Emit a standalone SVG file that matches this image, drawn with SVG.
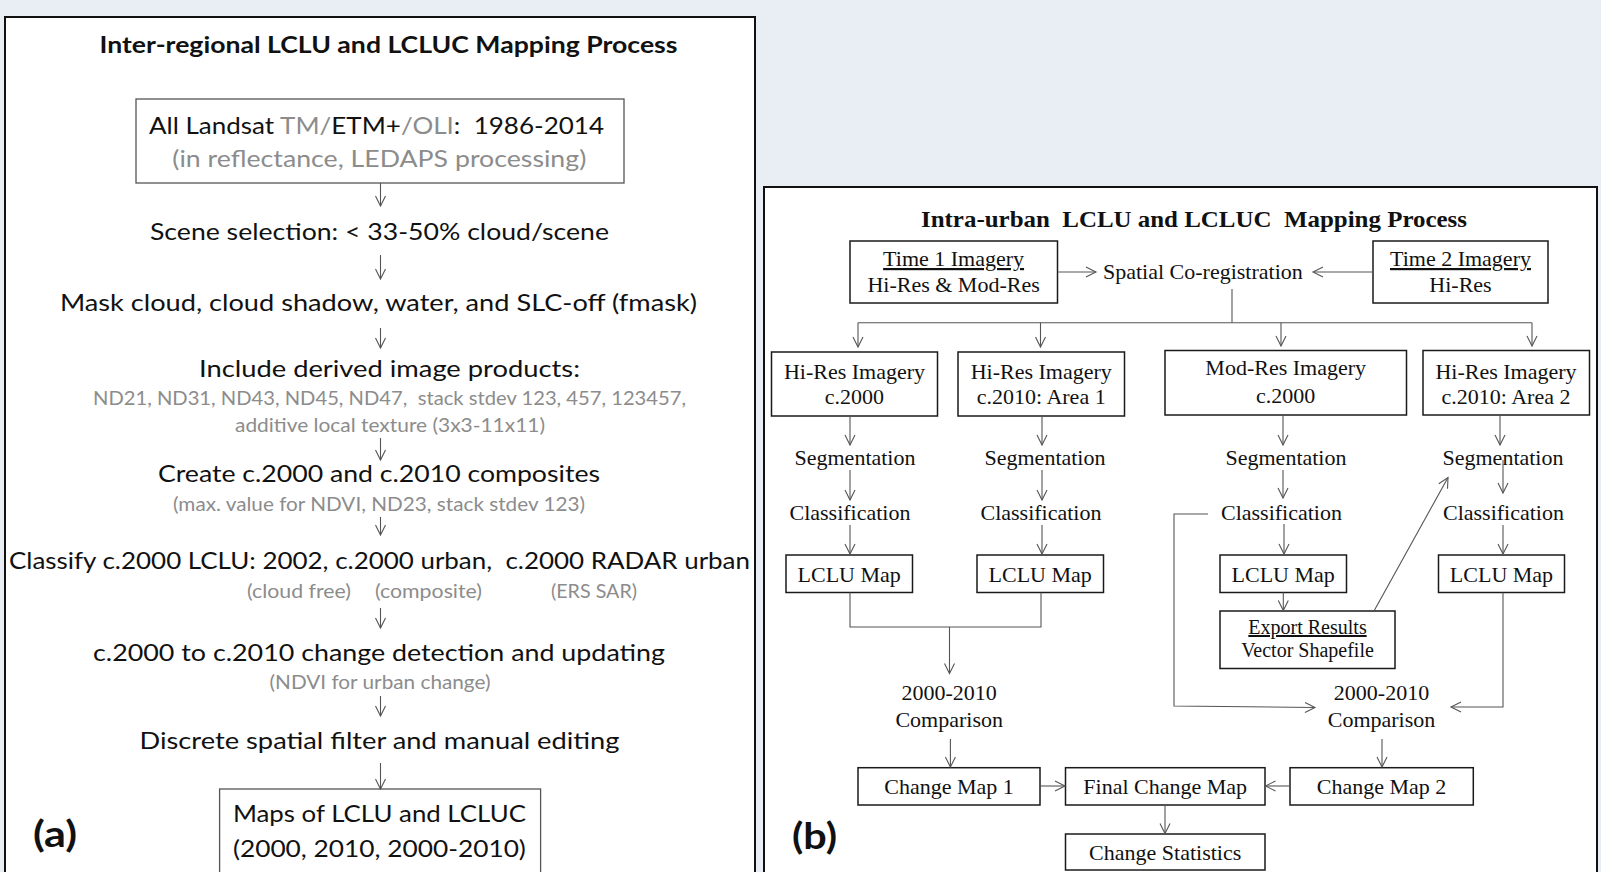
<svg xmlns="http://www.w3.org/2000/svg" width="1601" height="872" viewBox="0 0 1601 872">
  <style>
    .panel { fill: #ffffff; stroke: #111111; stroke-width: 2; }
    .boxa { fill: #ffffff; stroke: #555555; stroke-width: 1.3; }
    .boxb { fill: #ffffff; stroke: #1a1a1a; stroke-width: 1.5; }
    .conn { fill: none; stroke: #555555; stroke-width: 1.1; }
    .sa { font-family: Lato, "Open Sans", sans-serif; fill: #111111; }
    .sa-main { font-size: 24px; }
    .sa-sub { font-size: 19px; fill: #8c8c8c; }
    .grey { fill: #8c8c8c; }
    .sa-title { font-size: 22px; font-weight: bold; }
    .tag { font-family: Lato, "Open Sans", sans-serif; font-size: 36px; font-weight: bold; fill: #111111; }
    .tr { font-family: "Liberation Serif", "Times New Roman", serif; font-size: 22px; fill: #111111; }
    .tr-title { font-weight: bold; font-size: 23px; }
    .mid { text-anchor: middle; }
    .ul { text-decoration: underline; }
  </style>
  <defs>
    <marker id="vhead" viewBox="-12 -7 14 14" refX="0" refY="0" markerWidth="14" markerHeight="14" markerUnits="userSpaceOnUse" orient="auto">
      <path d="M-10,-5 L0,0 L-10,5" fill="none" stroke="#555555" stroke-width="1.1"/>
    </marker>
  </defs>

  <!-- page background -->
  <rect x="0" y="0" width="1601" height="872" fill="#e9edf4"/>

  <!-- ===== Panel (a): inter-regional process ===== -->
  <g id="panel-a">
    <rect class="panel" x="5" y="17" width="750" height="880"/>
    <text class="sa sa-title mid" x="388.5" y="53" textLength="578" lengthAdjust="spacingAndGlyphs">Inter-regional LCLU and LCLUC Mapping Process</text>
  </g>

  <g id="a-landsat">
    <rect class="boxa" x="136" y="99" width="488" height="84"/>
    <text class="sa sa-main" x="149" y="134" textLength="455" lengthAdjust="spacingAndGlyphs" xml:space="preserve">All Landsat <tspan class="grey">TM/</tspan>ETM+<tspan class="grey">/OLI</tspan>:  1986-2014</text>
    <text class="sa sa-main grey mid" x="379.3" y="167" textLength="414" lengthAdjust="spacingAndGlyphs">(in reflectance, LEDAPS processing)</text>
  </g>

  <g id="a-scene">
    <text class="sa sa-main mid" x="379.5" y="240" textLength="459" lengthAdjust="spacingAndGlyphs">Scene selection: &lt; 33-50% cloud/scene</text>
  </g>

  <g id="a-mask">
    <text class="sa sa-main mid" x="378.5" y="311" textLength="637" lengthAdjust="spacingAndGlyphs">Mask cloud, cloud shadow, water, and SLC-off (fmask)</text>
  </g>

  <g id="a-derived">
    <text class="sa sa-main mid" x="389.5" y="377" textLength="381" lengthAdjust="spacingAndGlyphs">Include derived image products:</text>
    <text class="sa sa-sub mid" x="389.5" y="405" textLength="593" lengthAdjust="spacingAndGlyphs" xml:space="preserve">ND21, ND31, ND43, ND45, ND47,  stack stdev 123, 457, 123457,</text>
    <text class="sa sa-sub mid" x="390" y="431.5" textLength="310" lengthAdjust="spacingAndGlyphs">additive local texture (3x3-11x11)</text>
  </g>

  <g id="a-composites">
    <text class="sa sa-main mid" x="379" y="481.5" textLength="442" lengthAdjust="spacingAndGlyphs">Create c.2000 and c.2010 composites</text>
    <text class="sa sa-sub mid" x="379" y="510.5" textLength="412" lengthAdjust="spacingAndGlyphs">(max. value for NDVI, ND23, stack stdev 123)</text>
  </g>

  <g id="a-classify">
    <text class="sa sa-main mid" x="379.5" y="569" textLength="741" lengthAdjust="spacingAndGlyphs" xml:space="preserve">Classify c.2000 LCLU: 2002, c.2000 urban,  c.2000 RADAR urban</text>
    <text class="sa sa-sub mid" x="299" y="597.5" textLength="104" lengthAdjust="spacingAndGlyphs">(cloud free)</text>
    <text class="sa sa-sub mid" x="428.5" y="597.5" textLength="107" lengthAdjust="spacingAndGlyphs">(composite)</text>
    <text class="sa sa-sub mid" x="594" y="597.5" textLength="86" lengthAdjust="spacingAndGlyphs">(ERS SAR)</text>
  </g>

  <g id="a-change">
    <text class="sa sa-main mid" x="379" y="661" textLength="572" lengthAdjust="spacingAndGlyphs">c.2000 to c.2010 change detection and updating</text>
    <text class="sa sa-sub mid" x="380" y="689" textLength="221" lengthAdjust="spacingAndGlyphs">(NDVI for urban change)</text>
  </g>

  <g id="a-filter">
    <text class="sa sa-main mid" x="379.5" y="749" textLength="480" lengthAdjust="spacingAndGlyphs">Discrete spatial filter and manual editing</text>
  </g>

  <g id="a-maps">
    <rect class="boxa" x="219.6" y="789" width="321" height="100"/>
    <text class="sa sa-main mid" x="379.4" y="821.5" textLength="293" lengthAdjust="spacingAndGlyphs">Maps of LCLU and LCLUC</text>
    <text class="sa sa-main mid" x="379.4" y="857" textLength="293" lengthAdjust="spacingAndGlyphs">(2000, 2010, 2000-2010)</text>
  </g>

  <g id="a-label">
    <text class="tag" x="33" y="847" textLength="44" lengthAdjust="spacingAndGlyphs">(a)</text>
  </g>

  <g id="a-connectors">
    <line class="conn" x1="380.5" y1="183" x2="380.5" y2="206" marker-end="url(#vhead)"/>
    <line class="conn" x1="380.5" y1="255" x2="380.5" y2="279" marker-end="url(#vhead)"/>
    <line class="conn" x1="380.5" y1="328" x2="380.5" y2="348" marker-end="url(#vhead)"/>
    <line class="conn" x1="380.5" y1="438" x2="380.5" y2="460" marker-end="url(#vhead)"/>
    <line class="conn" x1="380.5" y1="517" x2="380.5" y2="535" marker-end="url(#vhead)"/>
    <line class="conn" x1="380.5" y1="608" x2="380.5" y2="628" marker-end="url(#vhead)"/>
    <line class="conn" x1="380.5" y1="696" x2="380.5" y2="716" marker-end="url(#vhead)"/>
    <line class="conn" x1="380.5" y1="763" x2="380.5" y2="789" marker-end="url(#vhead)"/>
  </g>

  <!-- ===== Panel (b): intra-urban process ===== -->
  <g id="panel-b">
    <rect class="panel" x="764" y="187" width="833" height="710"/>
    <text class="tr tr-title mid" x="1194" y="226.7" textLength="546" lengthAdjust="spacingAndGlyphs" xml:space="preserve">Intra-urban  LCLU and LCLUC  Mapping Process</text>
  </g>

  <g id="b-time1">
    <rect class="boxb" x="850" y="241" width="207.5" height="62"/>
    <text class="tr mid ul" x="953.6" y="266">Time 1 Imagery</text>
    <text class="tr mid" x="953.6" y="292">Hi-Res &amp; Mod-Res</text>
  </g>

  <g id="b-coreg">
    <text class="tr" x="1103" y="279">Spatial Co-registration</text>
  </g>

  <g id="b-time2">
    <rect class="boxb" x="1373" y="241" width="175" height="62"/>
    <text class="tr mid ul" x="1460.5" y="266">Time 2 Imagery</text>
    <text class="tr mid" x="1460.5" y="292">Hi-Res</text>
  </g>

  <g id="b-hires2000">
    <rect class="boxb" x="771.5" y="352" width="166" height="64"/>
    <text class="tr mid" x="854.5" y="378.5">Hi-Res Imagery</text>
    <text class="tr mid" x="854.5" y="403.5">c.2000</text>
  </g>

  <g id="b-hires2010a1">
    <rect class="boxb" x="958" y="352" width="166.5" height="64"/>
    <text class="tr mid" x="1041.2" y="378.5">Hi-Res Imagery</text>
    <text class="tr mid" x="1041.2" y="403.5">c.2010: Area 1</text>
  </g>

  <g id="b-modres2000">
    <rect class="boxb" x="1165" y="350.5" width="241.5" height="64.5"/>
    <text class="tr mid" x="1285.7" y="375">Mod-Res Imagery</text>
    <text class="tr mid" x="1285.7" y="403">c.2000</text>
  </g>

  <g id="b-hires2010a2">
    <rect class="boxb" x="1423" y="350.5" width="166.5" height="64.5"/>
    <text class="tr mid" x="1506" y="378.5">Hi-Res Imagery</text>
    <text class="tr mid" x="1506" y="403.5">c.2010: Area 2</text>
  </g>

  <g id="b-seg1"><text class="tr mid" x="855" y="465">Segmentation</text></g>
  <g id="b-seg2"><text class="tr mid" x="1045" y="465">Segmentation</text></g>
  <g id="b-seg3"><text class="tr mid" x="1286" y="465">Segmentation</text></g>
  <g id="b-seg4"><text class="tr mid" x="1503" y="465">Segmentation</text></g>

  <g id="b-class1"><text class="tr mid" x="850" y="520">Classification</text></g>
  <g id="b-class2"><text class="tr mid" x="1041" y="520">Classification</text></g>
  <g id="b-class3"><text class="tr mid" x="1281.5" y="520">Classification</text></g>
  <g id="b-class4"><text class="tr mid" x="1503.5" y="520">Classification</text></g>

  <g id="b-map1">
    <rect class="boxb" x="786" y="555" width="126.5" height="37.5"/>
    <text class="tr mid" x="849.2" y="581.5">LCLU Map</text>
  </g>
  <g id="b-map2">
    <rect class="boxb" x="977" y="555" width="126.5" height="37.5"/>
    <text class="tr mid" x="1040.2" y="581.5">LCLU Map</text>
  </g>
  <g id="b-map3">
    <rect class="boxb" x="1220" y="555" width="126.5" height="37.5"/>
    <text class="tr mid" x="1283.2" y="581.5">LCLU Map</text>
  </g>
  <g id="b-map4">
    <rect class="boxb" x="1438.5" y="555" width="126" height="37.5"/>
    <text class="tr mid" x="1501.5" y="581.5">LCLU Map</text>
  </g>

  <g id="b-export">
    <rect class="boxb" x="1220" y="611" width="175" height="57.5"/>
    <text class="tr mid ul" x="1307.5" y="634" style="font-size:20px">Export Results</text>
    <text class="tr mid" x="1307.5" y="657" style="font-size:20px">Vector Shapefile</text>
  </g>

  <g id="b-compare1">
    <text class="tr mid" x="949.2" y="700">2000-2010</text>
    <text class="tr mid" x="949.2" y="726.7">Comparison</text>
  </g>
  <g id="b-compare2">
    <text class="tr mid" x="1381.5" y="700">2000-2010</text>
    <text class="tr mid" x="1381.5" y="726.7">Comparison</text>
  </g>

  <g id="b-change1">
    <rect class="boxb" x="858" y="767.7" width="182" height="37.3"/>
    <text class="tr mid" x="949" y="794">Change Map 1</text>
  </g>
  <g id="b-final">
    <rect class="boxb" x="1065.5" y="767.7" width="199.5" height="37.3"/>
    <text class="tr mid" x="1165.2" y="794">Final Change Map</text>
  </g>
  <g id="b-change2">
    <rect class="boxb" x="1290" y="767.7" width="183.3" height="37.3"/>
    <text class="tr mid" x="1381.6" y="794">Change Map 2</text>
  </g>
  <g id="b-stats">
    <rect class="boxb" x="1065.5" y="834" width="199.5" height="36"/>
    <text class="tr mid" x="1165.2" y="860">Change Statistics</text>
  </g>

  <g id="b-label">
    <text class="tag" x="792" y="849" textLength="45" lengthAdjust="spacingAndGlyphs">(b)</text>
  </g>

  <g id="b-connectors">
    <!-- inputs into co-registration -->
    <line class="conn" x1="1057.5" y1="272" x2="1096" y2="272" marker-end="url(#vhead)"/>
    <line class="conn" x1="1373" y1="272" x2="1313" y2="272" marker-end="url(#vhead)"/>
    <!-- distribution bus -->
    <line class="conn" x1="1232" y1="289" x2="1232" y2="322.7"/>
    <line class="conn" x1="858" y1="322.7" x2="1532" y2="322.7"/>
    <line class="conn" x1="858" y1="322.7" x2="858" y2="347" marker-end="url(#vhead)"/>
    <line class="conn" x1="1040.5" y1="322.7" x2="1040.5" y2="347" marker-end="url(#vhead)"/>
    <line class="conn" x1="1281" y1="322.7" x2="1281" y2="346" marker-end="url(#vhead)"/>
    <line class="conn" x1="1532" y1="322.7" x2="1532" y2="346" marker-end="url(#vhead)"/>
    <!-- column 1 -->
    <line class="conn" x1="850" y1="416" x2="850" y2="445" marker-end="url(#vhead)"/>
    <line class="conn" x1="850" y1="470" x2="850" y2="500" marker-end="url(#vhead)"/>
    <line class="conn" x1="850" y1="525" x2="850" y2="554" marker-end="url(#vhead)"/>
    <!-- column 2 -->
    <line class="conn" x1="1042" y1="416" x2="1042" y2="445" marker-end="url(#vhead)"/>
    <line class="conn" x1="1042" y1="470" x2="1042" y2="500" marker-end="url(#vhead)"/>
    <line class="conn" x1="1042" y1="525" x2="1042" y2="554" marker-end="url(#vhead)"/>
    <!-- column 3 -->
    <line class="conn" x1="1283" y1="415" x2="1283" y2="445" marker-end="url(#vhead)"/>
    <line class="conn" x1="1283" y1="470" x2="1283" y2="498" marker-end="url(#vhead)"/>
    <line class="conn" x1="1284" y1="524" x2="1284" y2="554" marker-end="url(#vhead)"/>
    <line class="conn" x1="1283.3" y1="592.5" x2="1283.3" y2="610.5" marker-end="url(#vhead)"/>
    <!-- column 4 -->
    <line class="conn" x1="1500" y1="415" x2="1500" y2="445" marker-end="url(#vhead)"/>
    <line class="conn" x1="1503" y1="460" x2="1503" y2="493" marker-end="url(#vhead)"/>
    <line class="conn" x1="1503" y1="525" x2="1503" y2="554" marker-end="url(#vhead)"/>
    <!-- merge of columns 1 and 2 -->
    <polyline class="conn" points="850,592.5 850,627 1041,627 1041,592.5"/>
    <line class="conn" x1="949.5" y1="627" x2="949.5" y2="673.5" marker-end="url(#vhead)"/>
    <!-- mod-res classification feed and area 2 map into comparison 2 -->
    <polyline class="conn" points="1208,514 1174,514 1174,706 1315,707.5" marker-end="url(#vhead)"/>
    <polyline class="conn" points="1503,592.5 1503,707 1451,707" marker-end="url(#vhead)"/>
    <!-- exported vectors guide area 2 segmentation -->
    <line class="conn" x1="1374" y1="611" x2="1448" y2="477.5" marker-end="url(#vhead)"/>
    <!-- comparisons to change maps -->
    <line class="conn" x1="950.4" y1="739" x2="950.4" y2="767" marker-end="url(#vhead)"/>
    <line class="conn" x1="1382" y1="739" x2="1382" y2="767" marker-end="url(#vhead)"/>
    <line class="conn" x1="1040" y1="786" x2="1065" y2="786" marker-end="url(#vhead)"/>
    <line class="conn" x1="1290" y1="786" x2="1265.5" y2="786" marker-end="url(#vhead)"/>
    <line class="conn" x1="1165" y1="805" x2="1165" y2="833.5" marker-end="url(#vhead)"/>
  </g>
</svg>
